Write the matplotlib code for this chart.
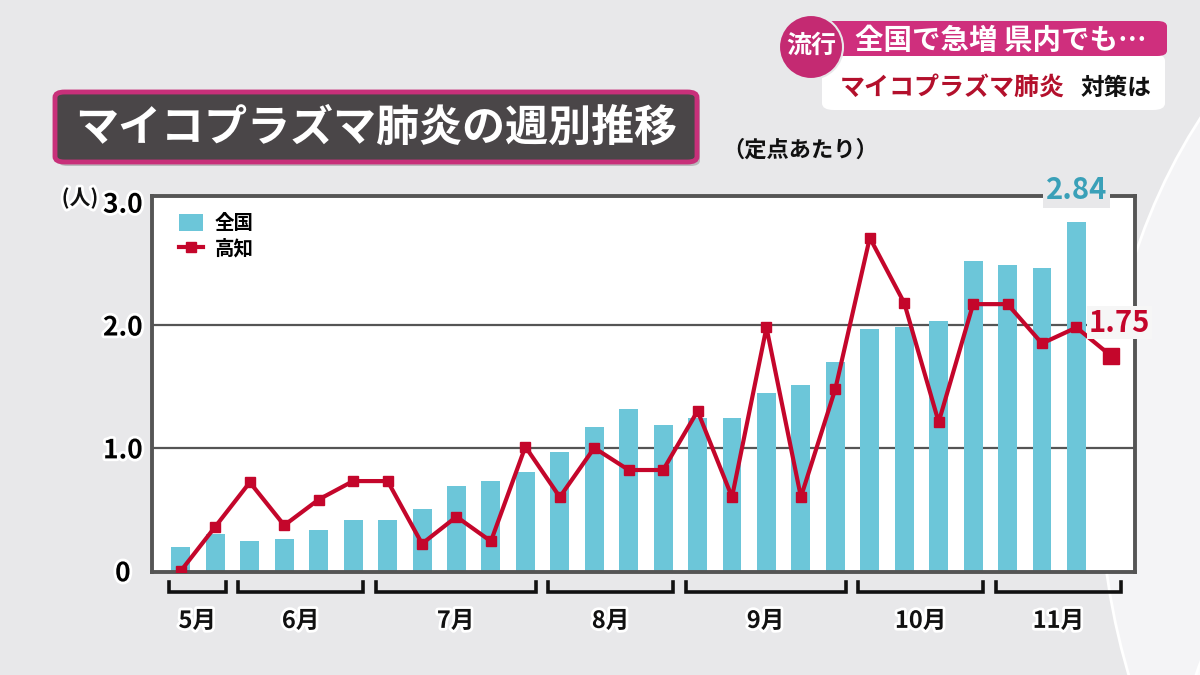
import matplotlib.pyplot as plt
import matplotlib.patheffects as pe
import matplotlib.transforms as mtrans
from matplotlib.patches import FancyBboxPatch, Ellipse, Patch
from matplotlib.lines import Line2D

plt.rcParams['font.family'] = ['Noto Sans CJK JP', 'DejaVu Sans']

# weekly values (per sentinel site), May .. November
weeks = list(range(28))
zenkoku = [0.19, 0.30, 0.24, 0.26, 0.33, 0.41, 0.41, 0.50, 0.69, 0.73, 0.80, 0.97, 1.17, 1.32,
           1.19, 1.24, 1.24, 1.45, 1.51, 1.70, 1.97, 1.98, 2.03, 2.52, 2.49, 2.46, 2.84]
kochi = [0.0, 0.36, 0.72, 0.37, 0.58, 0.73, 0.73, 0.22, 0.44, 0.24, 1.01, 0.60, 1.00, 0.82,
         0.82, 1.30, 0.60, 1.98, 0.60, 1.48, 2.71, 2.18, 1.21, 2.17, 2.17, 1.85, 1.98, 1.75]

months = ['5月', '6月', '7月', '8月', '9月', '10月', '11月']
month_start = [0, 2, 6, 11, 15, 20, 24]
month_end = [1, 5, 10, 14, 19, 23, 27]

yticks = [0, 1, 2, 3]
ytick_labels = ['0', '1.0', '2.0', '3.0']

bar_color = '#6cc6d9'
line_color = '#c4062b'
pink = '#cf2f7d'
bg = '#e8e8ea'
num_font = dict(family='Noto Sans CJK JP', weight='bold')
halo = [pe.withStroke(linewidth=4, foreground='white')]

fig = plt.figure(figsize=(12, 6.75), dpi=100)
fig.patch.set_facecolor(bg)

def px(x, y):
    return x / 1200, 1 - y / 675

# decorative swooshes in the background
for cx, cy, w, h, c in [(-2.0, -4.6, 13.0, 9.6, '#f1f1f3'), (15.2, 2.0, 8.4, 11.0, '#f4f4f6'),
                        (14.6, -1.0, 5.6, 6.0, '#fbfbfc')]:
    fig.patches.append(Ellipse((cx, cy), w, h, transform=fig.dpi_scale_trans,
                               facecolor=c, edgecolor='white', lw=2, zorder=-5))

ax = fig.add_axes([152 / 1200, 1 - 572 / 675, 983 / 1200, 376 / 675])
ax.set_facecolor('white')
ax.set_xlim(-0.84, 27.7)
ax.set_ylim(-0.01, 3.05)

for v in [1, 2]:
    ax.axhline(v, color='#555555', lw=1.6, zorder=1)

ax.bar(weeks[:len(zenkoku)], zenkoku, width=0.55, color=bar_color, zorder=2, label='全国')
ax.plot(weeks[:-1], kochi[:-1], color=line_color, lw=3, marker='s', markersize=7, zorder=3, label='高知')
ax.plot(weeks[-2:], kochi[-2:], color=line_color, lw=3, zorder=3)
ax.plot(weeks[-1], kochi[-1], marker='s', color=line_color, markersize=12, zorder=4, linestyle='none')

for s in ax.spines.values():
    s.set_color('#555555')
    s.set_linewidth(2.8)
ax.set_xticks([])
ax.set_yticks(yticks)
ax.set_yticklabels(ytick_labels, fontsize=19, ha='center', path_effects=halo, **num_font)
ax.tick_params(axis='y', length=0, pad=21)

# value labels
ax.text(len(zenkoku) - 1, 3.1, '2.84', ha='center', va='center', color='#3aa0b8',
        fontsize=21, zorder=6, clip_on=False, **num_font,
        bbox=dict(boxstyle='square,pad=0.1', facecolor=bg, edgecolor='none'))
ax.text(27.25, 2.02, '1.75', ha='center', va='center', color=line_color,
        fontsize=21, zorder=6, clip_on=False, **num_font,
        bbox=dict(boxstyle='square,pad=0.05', facecolor='#f6f6f6', edgecolor='none'))

# legend
handles = [Patch(facecolor=bar_color, edgecolor='none'),
           Line2D([0], [0], color=line_color, lw=3, marker='s', markersize=7)]
ax.legend(handles, ['全国', '高知'], loc='upper left', bbox_to_anchor=(0.01, 1.0), frameon=False,
          prop={'family': 'Noto Sans CJK JP', 'weight': 'bold', 'size': 14},
          handlelength=1.2, handleheight=1.0, handletextpad=0.6, labelspacing=0.3)

# month brackets
trans = mtrans.blended_transform_factory(ax.transData, ax.transAxes)
for s, e, m in zip(month_start, month_end, months):
    x0, x1 = s - 0.35, e + 0.3
    ax.plot([x0, x0, x1, x1], [-0.027, -0.053, -0.053, -0.027], transform=trans, color='#111111',
            lw=2.6, clip_on=False, solid_joinstyle='miter')
    ax.text((x0 + x1) / 2, -0.13, m, transform=trans, ha='center', va='center', fontsize=17,
            fontweight='bold', color='#111111', path_effects=halo)

fig.text(*px(80, 198), '(人)', ha='center', va='center', fontsize=15, fontweight='bold',
         color='#111111', path_effects=halo)

# title box
fig.patches.append(FancyBboxPatch(px(58, 166), 642 / 1200, 70 / 675, boxstyle='round,pad=0,rounding_size=0.008',
                                  transform=fig.transFigure, facecolor='#9a9a9c', edgecolor='none',
                                  alpha=0.6, zorder=1))
fig.patches.append(FancyBboxPatch(px(55, 162), 642 / 1200, 70 / 675, boxstyle='round,pad=0,rounding_size=0.008',
                                  transform=fig.transFigure, facecolor='#4a4648', edgecolor='#c8307a',
                                  lw=3.5, zorder=2))
fig.text(*px(376, 128), 'マイコプラズマ肺炎の週別推移', ha='center', va='center', fontsize=31,
         fontweight='bold', color='white', zorder=3)
fig.text(*px(800, 150), '（定点あたり）', ha='center', va='center', fontsize=16, fontweight='bold',
         color='#111111')

# top-right caption banner
fig.patches.append(FancyBboxPatch(px(822, 110), 343 / 1200, 56 / 675, boxstyle='round,pad=0,rounding_size=0.01',
                                  transform=fig.transFigure, facecolor='white', edgecolor='none', zorder=1))
fig.patches.append(FancyBboxPatch(px(805, 56), 362 / 1200, 35 / 675, boxstyle='round,pad=0,rounding_size=0.008',
                                  transform=fig.transFigure, facecolor=pink, edgecolor='none', zorder=2))
fig.patches.append(Ellipse(px(811, 47), 64 / 1200, 64 / 675, transform=fig.transFigure,
                           facecolor='#c42a72', edgecolor='#e8e8ea', lw=1.5, zorder=3))
fig.text(*px(811, 46), '流行', ha='center', va='center', fontsize=18, fontweight='bold', color='white', zorder=4)
fig.text(*px(1001, 41), '全国で急増 県内でも…', ha='center', va='center', fontsize=20.5, fontweight='bold',
         color='white', zorder=4)
fig.text(*px(952, 88), 'マイコプラズマ肺炎', ha='center', va='center', fontsize=18, fontweight='bold',
         color='#b3102c', zorder=4)
fig.text(*px(1116, 88), '対策は', ha='center', va='center', fontsize=17, fontweight='bold',
         color='#111111', zorder=4)

fig.savefig('out.png', dpi=100, facecolor=fig.get_facecolor())
